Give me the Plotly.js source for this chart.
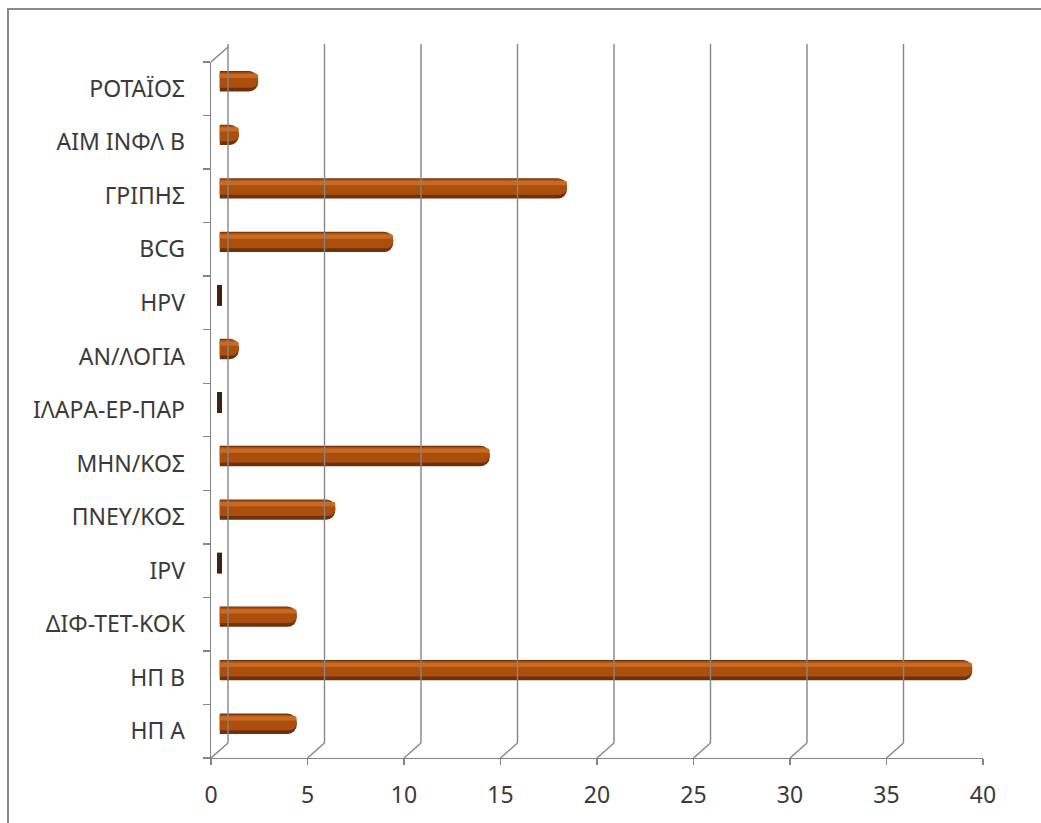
<!DOCTYPE html>
<html>
<head>
<meta charset="utf-8">
<script src="https://cdn.plot.ly/plotly-3.0.1.min.js"></script>
<style>
  html, body { margin: 0; padding: 0; background: #ffffff; overflow: hidden; }
  #chart { position: absolute; left: 0; top: 0; width: 1041px; height: 823px; }
  #frame { position: absolute; left: 7px; top: 8px; width: 1100px; height: 900px;
           border: 2px solid #8a8a8a; pointer-events: none; box-sizing: border-box; }
</style>
</head>
<body>
<div id="chart"></div>
<div id="frame"></div>
<script>
// ---- data ----
const categories = ['ΗΠ Α','ΗΠ Β','ΔΙΦ-ΤΕΤ-ΚΟΚ','IPV','ΠΝΕΥ/ΚΟΣ','ΜΗΝ/ΚΟΣ','ΙΛΑΡΑ-ΕΡ-ΠΑΡ','ΑΝ/ΛΟΓΙΑ','HPV','BCG','ΓΡΙΠΗΣ','ΑΙΜ ΙΝΦΛ Β','ΡΟΤΑΪΟΣ'];
const values     = [4, 39, 4, 0, 6, 14, 0, 1, 0, 9, 18, 1, 2];
const xTicks     = [0, 5, 10, 15, 20, 25, 30, 35, 40];

// ---- geometry helpers (pixels in a 1041x823 figure, zero margins) ----
const W = 1041, H = 823;
const fx = p => p / W;
const fy = p => 1 - p / H;
const DEPTH_X = 17, DEPTH_Y = 15;          // 3D depth offset (front -> back)
const front = { x0: 211, x1: 983, top: 62, bottom: 758 };
const mid   = { x0: front.x0 + DEPTH_X / 2, x1: front.x1 + DEPTH_X / 2,
                top: front.top - DEPTH_Y / 2, bottom: front.bottom - DEPTH_Y / 2 };
const backBottom = front.bottom - DEPTH_Y, backTop = 44;

const fontFam = '"Noto Sans", "DejaVu Sans", sans-serif';
const textColor = '#3a3a3a';
const gridColor = '#858585';

// zero-valued cylinders show only their end cap
const zeroCats = categories.filter((c, i) => values[i] === 0);
const zeroVals = values.filter(v => v === 0);

const traces = [
  { type: 'bar', orientation: 'h', x: values, y: categories, xaxis: 'x', yaxis: 'y',
    width: 0.38, marker: { color: '#70300a', cornerradius: 9, line: { width: 0 } },
    hoverinfo: 'skip', showlegend: false },
  { type: 'bar', orientation: 'h', x: values, y: categories, xaxis: 'x', yaxis: 'y',
    width: 0.29, offset: -0.12, marker: { color: '#ad4f0c', cornerradius: 8, line: { width: 0 } },
    hoverinfo: 'skip', showlegend: false },
  { type: 'bar', orientation: 'h', x: values, y: categories, xaxis: 'x', yaxis: 'y',
    width: 0.08, offset: 0.06, marker: { color: '#c96a22', cornerradius: 3, line: { width: 0 } },
    hoverinfo: 'skip', showlegend: false },
  { type: 'scatter', mode: 'markers', x: zeroVals, y: zeroCats, xaxis: 'x', yaxis: 'y',
    marker: { symbol: 'line-ns', size: 15, line: { width: 5, color: '#3f2210' } },
    hoverinfo: 'skip', showlegend: false, cliponaxis: false },
  // carrier for the front (labelled) axes
  { type: 'scatter', mode: 'markers', x: values, y: categories, xaxis: 'x2', yaxis: 'y2',
    marker: { opacity: 0 }, hoverinfo: 'skip', showlegend: false }
];

// back-wall gridlines and floor slants, anchored to the front axis values
const shapes = [];
xTicks.forEach(v => {
  shapes.push({ type: 'line', xref: 'x2', xsizemode: 'pixel', xanchor: v,
    x0: DEPTH_X, x1: DEPTH_X, yref: 'paper', y0: fy(backBottom), y1: fy(backTop),
    line: { color: gridColor, width: 1.4 } });
  shapes.push({ type: 'line', xref: 'x2', xsizemode: 'pixel', xanchor: v,
    x0: DEPTH_X, x1: 0, yref: 'paper', y0: fy(backBottom), y1: fy(front.bottom),
    line: { color: gridColor, width: 1.4 } });
});
// top slant of the vertical axis
shapes.push({ type: 'line', xref: 'x2', xsizemode: 'pixel', xanchor: xTicks[0],
  x0: 0, x1: DEPTH_X, yref: 'paper', y0: fy(front.top), y1: fy(front.top - DEPTH_Y),
  line: { color: gridColor, width: 1.4 } });

const layout = {
  width: W, height: H,
  margin: { l: 0, r: 0, t: 0, b: 0, pad: 0 },
  paper_bgcolor: 'rgba(0,0,0,0)', plot_bgcolor: 'rgba(0,0,0,0)',
  barmode: 'overlay',
  font: { family: fontFam, size: 23, color: textColor },
  showlegend: false,
  xaxis: { domain: [fx(mid.x0), fx(mid.x1)], range: [0, 40], anchor: 'y',
           visible: false, fixedrange: true },
  yaxis: { domain: [fy(mid.bottom), fy(mid.top)], type: 'category',
           categoryorder: 'array', categoryarray: categories,
           range: [-0.5, categories.length - 0.5], anchor: 'x', visible: false, fixedrange: true },
  xaxis2: { domain: [fx(front.x0), fx(front.x1)], range: [0, 40], anchor: 'y2',
            tickvals: xTicks, ticktext: xTicks.map(String),
            showline: true, linecolor: gridColor, linewidth: 1.4,
            ticks: 'outside', ticklen: 6, tickcolor: gridColor, tickwidth: 1.4,
            showgrid: false, zeroline: false, ticklabelstandoff: 10,
            tickfont: { family: fontFam, size: 23, color: textColor }, fixedrange: true },
  yaxis2: { domain: [fy(front.bottom), fy(front.top)], type: 'category',
            categoryorder: 'array', categoryarray: categories,
            range: [-0.5, categories.length - 0.5], anchor: 'x2',
            showline: true, linecolor: gridColor, linewidth: 1.4,
            ticks: 'outside', tickson: 'boundaries', ticklen: 7, tickcolor: gridColor, tickwidth: 1.4,
            showgrid: false, zeroline: false, ticklabelstandoff: 20,
            tickfont: { family: fontFam, size: 23, color: textColor }, fixedrange: true },
  shapes: shapes
};

Plotly.newPlot('chart', traces, layout, { displayModeBar: false, staticPlot: true });
</script>
</body>
</html>
